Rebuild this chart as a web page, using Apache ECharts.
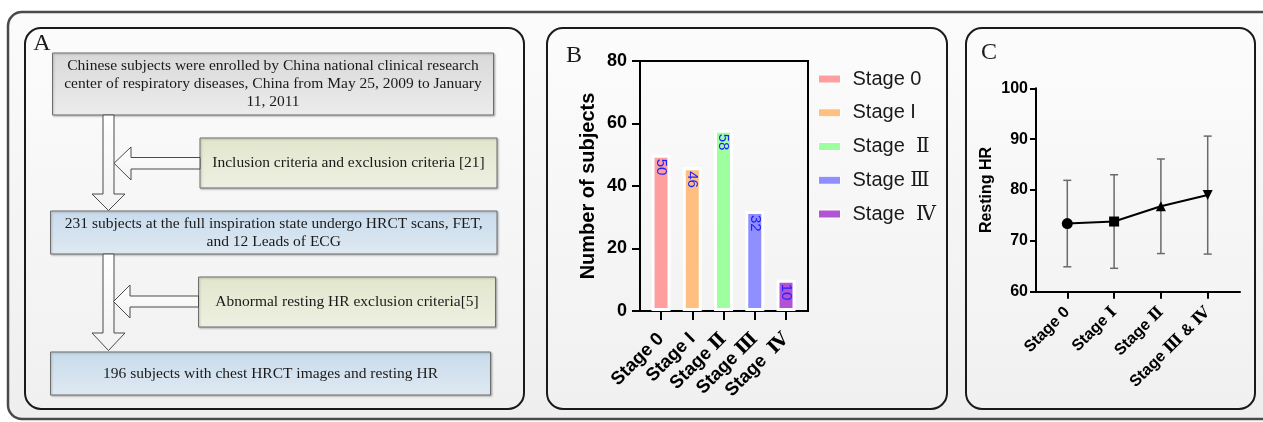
<!DOCTYPE html>
<html><head><meta charset="utf-8">
<script src="https://cdn.jsdelivr.net/npm/echarts@6/dist/echarts.min.js"></script>
<style>html,body{margin:0;padding:0;background:#fff}#c{width:1263px;height:422px}</style>
</head><body><div id="c"></div><script>
// ---- data ----
const flowTexts = [
  'Chinese subjects were enrolled by China national clinical research\ncenter of respiratory diseases, China from May 25, 2009 to January\n11, 2011',
  'Inclusion criteria and exclusion criteria [21]',
  '231 subjects at the full inspiration state undergo HRCT scans, FET,\nand 12 Leads of ECG',
  'Abnormal resting HR exclusion criteria[5]',
  '196 subjects with chest HRCT images and resting HR'
];
const panelLabels = ['A', 'B', 'C'];
const barCategories = ['Stage 0', 'Stage I', 'Stage Ⅱ', 'Stage Ⅲ', 'Stage  Ⅳ'];
const legendNames = ['Stage 0', 'Stage I', 'Stage  Ⅱ', 'Stage Ⅲ', 'Stage  Ⅳ'];
const subjectCounts = [50, 46, 58, 32, 10];
const countAxis = {min: 0, max: 80, interval: 20};
const hrCategories = ['Stage 0', 'Stage Ⅰ', 'Stage Ⅱ', 'Stage Ⅲ & Ⅳ'];
const hrMean = [73.4, 73.8, 76.8, 79.0];
const hrSD = [8.5, 9.2, 9.3, 11.6];
const hrAxis = {min: 60, max: 100, interval: 10};

// ---- styles ----
const barColors = ['#ff9e9e', '#ffbf80', '#9eff9e', '#8f8fff', '#b153d4'];
const hrSymbols = ['circle', 'rect', 'triangle', 'triangle'];
const hrSymbolRotate = [0, 0, 0, 180];
const hrSymbolSize = [11, 10, 10, 10];
const serif = "'Liberation Serif','Times New Roman',serif";
const sans = "Arial,'Liberation Sans','DejaVu Serif',sans-serif";
const vgrad = (a, b) => ({type: 'linear', x: 0, y: 0, x2: 0, y2: 1, colorStops: [{offset: 0, color: a}, {offset: 1, color: b}]});

// ---- layout graphics (frames, flowchart) ----
const g = [];
g.push({type: 'rect', z: -10, shape: {x: 8, y: 12, width: 1275, height: 407, r: 14},
  style: {fill: vgrad('#fbfbfb', '#eeeeee'), stroke: '#4a4a4a', lineWidth: 2.5}});
[[25, 28, 499, 381], [547, 28, 400, 381], [966, 28, 289, 381]].forEach(p => {
  g.push({type: 'rect', z: -9, shape: {x: p[0], y: p[1], width: p[2], height: p[3], r: 16},
    style: {fill: vgrad('#fcfcfc', '#f0f0f0'), stroke: '#1a1a1a', lineWidth: 2}});
});
const labelPos = [[42, 44], [574, 56], [989, 53]];
panelLabels.forEach((t, i) => g.push({type: 'text', z: 5, x: labelPos[i][0], y: labelPos[i][1],
  style: {text: t, font: '24px ' + serif, fill: '#1a1a1a', textAlign: 'center', textVerticalAlign: 'middle'}}));

const boxes = [
  [52.5, 53, 441, 62, vgrad('#d9d9d9', '#ececec')],
  [200, 138, 297, 50, vgrad('#e2e6cc', '#eef0e2')],
  [50.5, 211, 446.5, 43, vgrad('#c8dbec', '#dfe9f2')],
  [198.5, 277, 297, 50, vgrad('#e2e6cc', '#eef0e2')],
  [50.5, 352, 440, 43, vgrad('#c8dbec', '#dfe9f2')]
];
boxes.forEach((b, i) => {
  g.push({type: 'rect', z: 1, shape: {x: b[0], y: b[1], width: b[2], height: b[3]},
    style: {fill: b[4], stroke: '#6e6e6e', lineWidth: 1, shadowBlur: 2, shadowOffsetX: 1, shadowOffsetY: 1, shadowColor: 'rgba(0,0,0,0.25)'}});
  g.push({type: 'text', z: 2, x: b[0] + b[2] / 2, y: b[1] + b[3] / 2,
    style: {text: flowTexts[i], font: '15.5px ' + serif, fill: '#1a1a1a', textAlign: 'center', textVerticalAlign: 'middle', lineHeight: 18}});
});
const arrowStyle = {fill: vgrad('#ffffff', '#f2f2f2'), stroke: '#4a4a4a', lineWidth: 1};
function vArrow(x1, x2, y0, yh, yt, hl, hr) {
  const xm = (x1 + x2) / 2;
  return {type: 'polygon', z: 1, shape: {points: [[x1, y0], [x2, y0], [x2, yh], [hr, yh], [xm, yt], [hl, yh], [x1, yh]]}, style: arrowStyle};
}
function hArrow(x0, xb, xt, y1, y2, ht, hb) {
  const ym = (y1 + y2) / 2;
  return {type: 'polygon', z: 2, shape: {points: [[x0, y1], [xb, y1], [xb, ht], [xt, ym], [xb, hb], [xb, y2], [x0, y2]]}, style: arrowStyle};
}
g.push(vArrow(103, 114, 115, 194, 210.5, 92, 125));
g.push(vArrow(103, 114, 254, 333, 350.5, 92, 125));
g.push(hArrow(200, 131, 114, 157.5, 169, 147, 180));
g.push(hArrow(198.5, 130, 113.5, 296, 307, 285, 318));

// ---- chart ----
const blk = '#000';
const option = {
  animation: false,
  graphic: {elements: g},
  grid: [
    {left: 640, top: 61, width: 168, height: 250, show: true, borderColor: blk, borderWidth: 2, backgroundColor: 'transparent'},
    {left: 645.4, top: 61, width: 156.25, height: 250},
    {left: 1036, top: 88.3, width: 204, height: 203.4},
    {left: 1043.9, top: 88.3, width: 187.2, height: 203.4}
  ],
  xAxis: [
    {gridIndex: 0, type: 'value', show: false, min: 0, max: 1},
    {gridIndex: 1, type: 'category', data: barCategories, boundaryGap: true,
      axisLine: {show: false},
      axisTick: {show: true, alignWithLabel: true, length: 9, lineStyle: {color: blk, width: 2}},
      axisLabel: {interval: 0, rotate: 45, margin: 25, fontSize: 18.5, fontWeight: 'bold', fontFamily: sans, color: blk}},
    {gridIndex: 2, type: 'value', min: 0, max: 1, z: 5,
      axisLine: {show: true, lineStyle: {color: blk, width: 2}},
      axisTick: {show: false}, axisLabel: {show: false}, splitLine: {show: false}},
    {gridIndex: 3, type: 'category', data: hrCategories, boundaryGap: true,
      axisLine: {show: false},
      axisTick: {show: true, alignWithLabel: true, length: 7, lineStyle: {color: blk, width: 2}},
      axisLabel: {interval: 0, rotate: 45, margin: 18, fontSize: 16, fontWeight: 'bold', fontFamily: sans, color: blk}}
  ],
  yAxis: [
    {gridIndex: 0, type: 'value', min: countAxis.min, max: countAxis.max, interval: countAxis.interval, z: 5,
      name: 'Number of subjects', nameLocation: 'middle', nameGap: 42,
      nameTextStyle: {fontSize: 20, fontWeight: 'bold', fontFamily: sans, color: blk},
      axisLine: {show: true, lineStyle: {color: blk, width: 2}},
      axisTick: {show: true, length: 8, lineStyle: {color: blk, width: 2}},
      axisLabel: {margin: 13, fontSize: 18, fontWeight: 'bold', fontFamily: sans, color: blk},
      splitLine: {show: false}},
    {gridIndex: 1, type: 'value', show: false, min: countAxis.min, max: countAxis.max, splitLine: {show: false}},
    {gridIndex: 2, type: 'value', min: hrAxis.min, max: hrAxis.max, interval: hrAxis.interval, z: 5,
      name: 'Resting HR', nameLocation: 'middle', nameGap: 41,
      nameTextStyle: {fontSize: 16, fontWeight: 'bold', fontFamily: sans, color: blk},
      axisLine: {show: true, lineStyle: {color: blk, width: 2}},
      axisTick: {show: true, length: 6, lineStyle: {color: blk, width: 2}},
      axisLabel: {margin: 8, fontSize: 16, fontWeight: 'bold', fontFamily: sans, color: blk},
      splitLine: {show: false}},
    {gridIndex: 3, type: 'value', show: false, min: hrAxis.min, max: hrAxis.max, splitLine: {show: false}}
  ],
  legend: {
    orient: 'vertical', left: 813, top: 64, icon: 'rect', itemWidth: 22, itemHeight: 8, itemGap: 13.75,
    selectedMode: false, data: legendNames,
    itemStyle: {borderColor: '#fff', borderWidth: 1},
    textStyle: {fontSize: 20, fontFamily: sans, color: '#1a1a1a', lineHeight: 20, padding: [0, 0, 0, 7]}
  },
  series: [
    ...legendNames.map((name, i) => ({
      type: 'bar', name: name, xAxisIndex: 1, yAxisIndex: 1, barWidth: 19, barGap: '-100%',
      data: subjectCounts.map((v, j) => j === i ? v : '-'),
      itemStyle: {color: barColors[i], borderColor: '#fff', borderWidth: 3},
      label: {show: true, position: 'insideTop', rotate: -90, align: 'left', verticalAlign: 'middle', distance: 4,
        color: '#2222ff', fontSize: 15, fontFamily: sans}
    })),
    {
      type: 'custom', xAxisIndex: 3, yAxisIndex: 3, z: 1,
      data: hrMean.map((m, i) => [i, m - hrSD[i], m + hrSD[i]]),
      renderItem: function (params, api) {
        const lo = api.coord([api.value(0), api.value(1)]);
        const hi = api.coord([api.value(0), api.value(2)]);
        const w = 4, st = {stroke: '#6a6a6a', lineWidth: 1.5};
        return {type: 'group', children: [
          {type: 'line', shape: {x1: lo[0], y1: lo[1], x2: hi[0], y2: hi[1]}, style: st},
          {type: 'line', shape: {x1: hi[0] - w, y1: hi[1], x2: hi[0] + w, y2: hi[1]}, style: st},
          {type: 'line', shape: {x1: lo[0] - w, y1: lo[1], x2: lo[0] + w, y2: lo[1]}, style: st}
        ]};
      }
    },
    {
      type: 'line', xAxisIndex: 3, yAxisIndex: 3, z: 3,
      data: hrMean.map((v, i) => ({value: v, symbol: hrSymbols[i], symbolRotate: hrSymbolRotate[i], symbolSize: hrSymbolSize[i]})),
      lineStyle: {color: blk, width: 2}, itemStyle: {color: blk}
    }
  ]
};
const chart = echarts.init(document.getElementById('c'), null, {renderer: 'canvas'});
chart.setOption(option);
</script></body></html>
